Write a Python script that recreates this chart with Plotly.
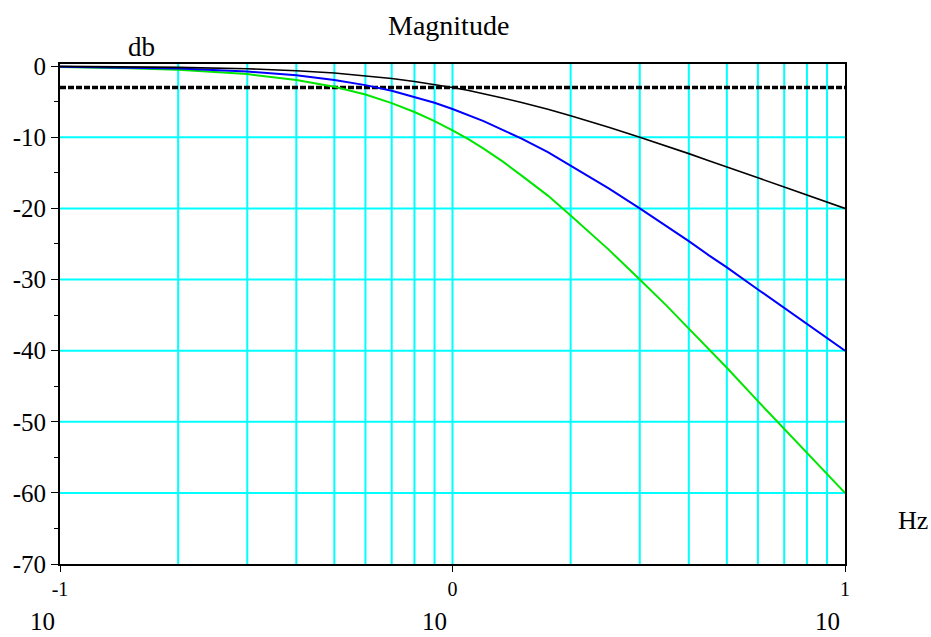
import plotly.graph_objects as go

# Frequency points (Hz) shared by the three magnitude curves
freq_hz = [0.1, 0.15, 0.2, 0.3, 0.4, 0.5, 0.6, 0.7, 0.8, 0.9, 1.0, 1.1, 1.2,
           1.35, 1.5, 1.75, 2.0, 2.25, 2.5, 3.0, 3.5, 4.0, 4.5, 5.0, 6.0, 7.0,
           8.0, 9.0, 10.0]

# Magnitude in dB for one, two and three cascaded stages
mag_one_stage = [-0.04, -0.10, -0.17, -0.37, -0.64, -0.97, -1.34, -1.73, -2.15,
                 -2.57, -3.01, -3.43, -3.87, -4.51, -5.12, -6.05, -6.99, -7.82,
                 -8.60, -10.0, -11.2, -12.3, -13.3, -14.15, -15.7, -17.0, -18.1,
                 -19.1, -20.0]
mag_two_stage = [-0.09, -0.20, -0.34, -0.75, -1.29, -1.94, -2.67, -3.46, -4.30,
                 -5.15, -6.02, -6.87, -7.74, -9.02, -10.2, -12.1, -14.0, -15.6,
                 -17.2, -20.0, -22.4, -24.6, -26.6, -28.3, -31.4, -34.0, -36.3,
                 -38.2, -40.0]
mag_three_stage = [-0.13, -0.29, -0.51, -1.12, -1.94, -2.91, -4.00, -5.20, -6.45,
                   -7.72, -9.03, -10.3, -11.6, -13.5, -15.4, -18.2, -21.0, -23.5,
                   -25.8, -30.0, -33.6, -36.9, -39.8, -42.4, -47.1, -51.0, -54.4,
                   -57.4, -60.0]

# -3 dB reference level
ref_level_db = -3.0
ref_freq = [0.1, 10.0]

# Axis ticks
y_ticks = [0, -10, -20, -30, -40, -50, -60, -70]
y_tick_text = ["0", "-10", "-20", "-30", "-40", "-50", "-60", "-70"]
x_grid = [0.2, 0.3, 0.4, 0.5, 0.6, 0.7, 0.8, 0.9, 1.0,
          2, 3, 4, 5, 6, 7, 8, 9]
x_decades = [0.1, 1.0, 10.0]
x_decade_exp = [-1, 0, 1]
x_exponents = ["-1", "0", "1"]

SERIF = "Liberation Serif, Times New Roman, serif"

fig = go.Figure()

fig.add_trace(go.Scatter(x=ref_freq, y=[ref_level_db, ref_level_db], mode="lines",
                         line=dict(color="black", width=3.5, dash="6px,2px"),
                         showlegend=False, hoverinfo="skip"))
fig.add_trace(go.Scatter(x=freq_hz, y=mag_three_stage, mode="lines",
                         line=dict(color="#00e600", width=2), showlegend=False))
fig.add_trace(go.Scatter(x=freq_hz, y=mag_two_stage, mode="lines",
                         line=dict(color="#0000ff", width=2), showlegend=False))
fig.add_trace(go.Scatter(x=freq_hz, y=mag_one_stage, mode="lines",
                         line=dict(color="black", width=1.6), showlegend=False))

# Cyan grid lines
for gx in x_grid:
    fig.add_shape(type="line", xref="x", yref="paper", x0=gx, x1=gx, y0=0, y1=1,
                  line=dict(color="#00ffff", width=2), layer="below")
for gy in y_ticks[1:-1]:
    fig.add_shape(type="line", xref="paper", yref="y", x0=0, x1=1, y0=gy, y1=gy,
                  line=dict(color="#00ffff", width=2), layer="below")

# Decade base labels under the exponents (annotation x on a log axis is log10)
for xe in x_decade_exp:
    fig.add_annotation(x=xe, xref="x", y=0, yref="paper", yanchor="middle",
                       text="10", showarrow=False, yshift=-57, xshift=-18,
                       font=dict(family=SERIF, size=25, color="black"))

fig.add_annotation(x=0.5, xref="paper", y=1, yref="paper", yanchor="middle",
                   text="Magnitude", showarrow=False, yshift=39, xshift=-4,
                   font=dict(family=SERIF, size=28, color="black"))
fig.add_annotation(x=0.084, xref="paper", y=1, yref="paper", yanchor="middle",
                   text="db", showarrow=False, yshift=17,
                   font=dict(family=SERIF, size=27, color="black"))
fig.add_annotation(x=1, xref="paper", y=-60, yref="y", yanchor="middle",
                   text="Hz", showarrow=False, xanchor="left", xshift=51,
                   yshift=-28, font=dict(family=SERIF, size=26, color="black"))

fig.update_xaxes(type="log", range=[-1, 1], showgrid=False, zeroline=False,
                 tickvals=x_decades, ticktext=x_exponents,
                 ticks="outside", ticklen=6, tickcolor="black",
                 ticklabelstandoff=0,
                 showline=True, linecolor="black", linewidth=2, mirror=True,
                 tickfont=dict(family=SERIF, size=20, color="black"))
fig.update_yaxes(range=[-70, 0.3], showgrid=False, zeroline=False,
                 tickvals=y_ticks, ticktext=y_tick_text,
                 ticks="outside", ticklen=7, tickcolor="black",
                 minor=dict(tickvals=[-5, -15, -25, -35, -45, -55, -65],
                            ticks="outside", ticklen=4, tickcolor="black"),
                 showline=True, linecolor="black", linewidth=2, mirror=True,
                 tickfont=dict(family=SERIF, size=25, color="black"))

fig.update_layout(width=931, height=637, plot_bgcolor="white",
                  paper_bgcolor="white",
                  margin=dict(l=60, r=86, t=64, b=73))

fig.write_html("out.html")
